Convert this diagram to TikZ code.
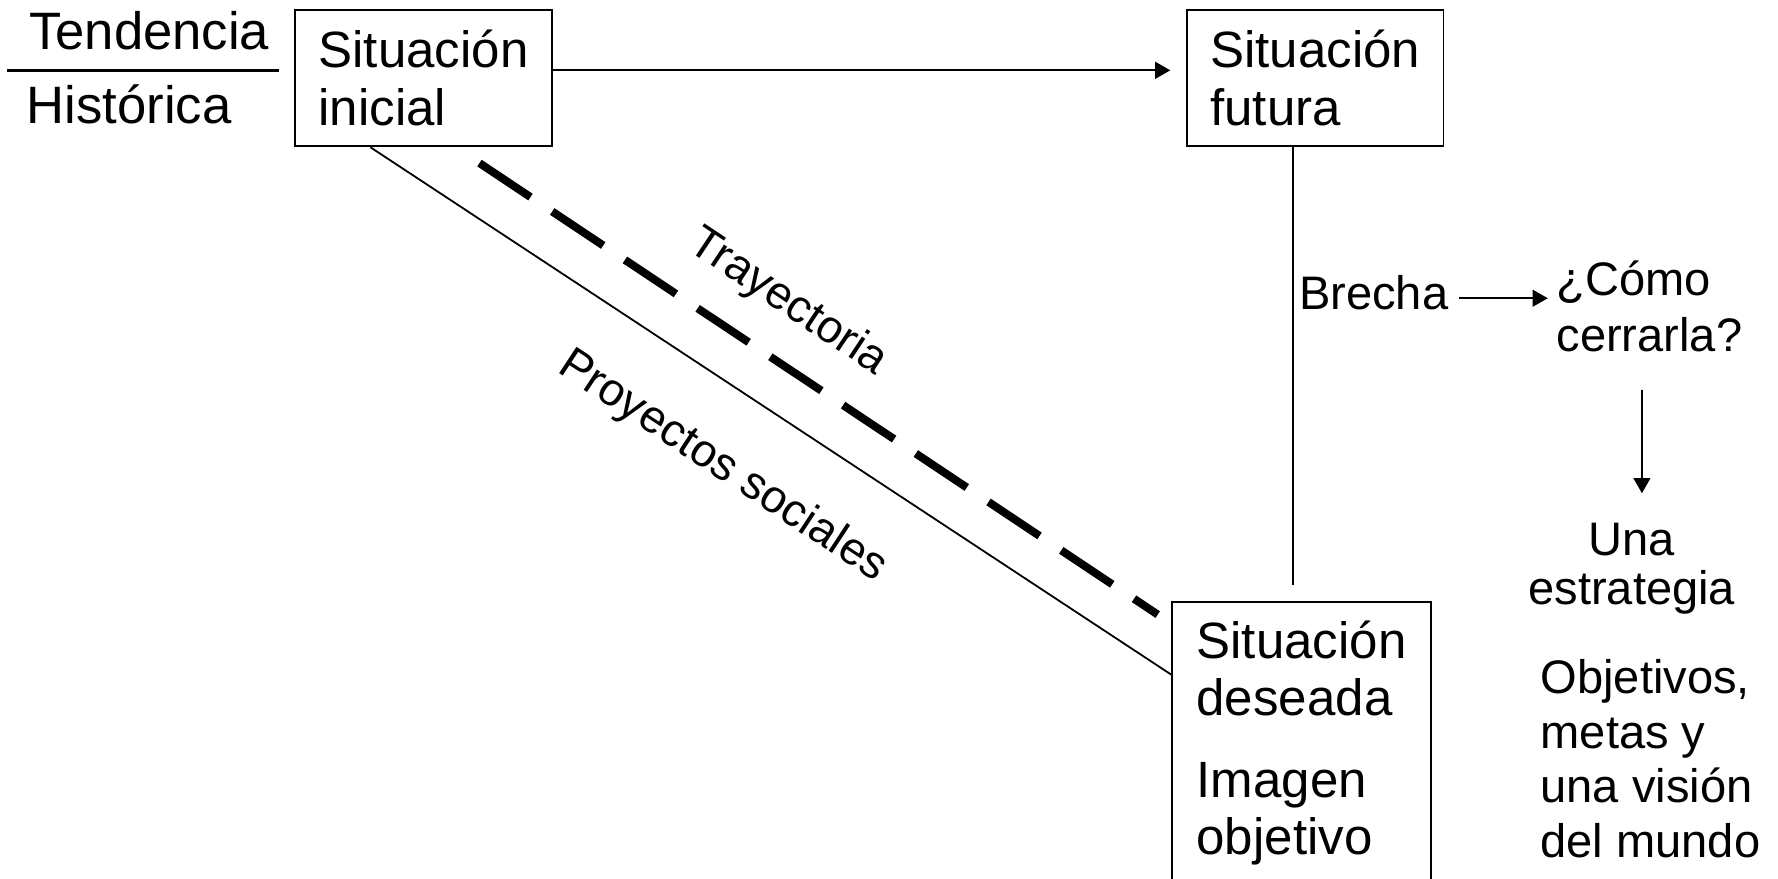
\documentclass[tikz,border=0pt]{standalone}
\usepackage{fontspec}
\setmainfont{Liberation Sans}
\usetikzlibrary{positioning,calc,arrows.meta}

\begin{document}
\begin{tikzpicture}[x=0.01cm,y=-0.01cm,>={Triangle[length=3.8pt,width=4.2pt]},
    thin line/.style={line width=0.45pt},
    box node/.style={rectangle,draw,line width=0.45pt,align=left,inner sep=0pt,font=\fontsize{12.8pt}{14.5pt}\selectfont},
    text node/.style={inner sep=0pt,font=\fontsize{11.8pt}{14.2pt}\selectfont},
    slope label/.style={sloped,inner sep=0pt,font=\fontsize{11.5pt}{13pt}\selectfont}]

\useasboundingbox (0,0) rectangle (1568,775);

\node[text node,anchor=base west,font=\fontsize{13.2pt}{14pt}\selectfont] (tend) at (25,44) {Tendencia};
\node[text node,anchor=base west,font=\fontsize{13.2pt}{14pt}\selectfont] (hist) at (23,109) {Histórica};
\coordinate (barL) at (6,62);
\coordinate (barR) at (246,62);

\node[box node,minimum width=2.27cm,minimum height=1.2cm] (inicial) at (373.5,69) {Situación\\inicial};
\node[box node,minimum width=2.26cm,minimum height=1.2cm] (futura)  at (1160,69)  {Situación\\futura};
\node[box node,minimum width=2.28cm,inner ysep=0.17cm,text depth=0.5cm,anchor=north west,
      font=\fontsize{12.8pt}{14.2pt}\selectfont] (deseada) at (1033,530) {Situación\\deseada\\[6.5pt]Imagen\\objetivo};

\node[text node,anchor=base west] (brecha) at (1145,273) {Brecha};
\node[text node,align=left,anchor=north west] (como) at (1372,229) {¿Cómo\\cerrarla?};
\node[text node,align=center,anchor=north,font=\fontsize{11.8pt}{12.2pt}\selectfont] (est) at (1439,461) {Una\\estrategia};
\node[text node,align=left,anchor=north west,font=\fontsize{11.8pt}{13.7pt}\selectfont] (obj) at (1358,581) {Objetivos,\\metas y\\una visión\\del mundo};

\coordinate (trayA) at ($(inicial.south east)+(-65,14)$);
\coordinate (trayB) at ($(deseada.north west)+(-12,12)$);

\draw[line width=0.6pt] (barL) -- (barR);
\draw[thin line,->,shorten >=0.14cm] ([yshift=0.07cm]inicial.east) -- ([yshift=0.07cm]futura.west);
\draw[line width=0.5pt,shorten >=0.14cm] ([xshift=-0.2cm]futura.south) -- ([xshift=-0.2cm]futura.south |- deseada.north);
\draw[thin line] ($(inicial.south west)!0.295!(inicial.south east)$) -- node[slope label,pos=0.49,below=0.45cm] {Proyectos sociales} ($(deseada.north west)+(0,65)$);
\draw[line width=2pt,dash pattern=on 0.54cm off 0.23cm] (trayA) -- node[slope label,pos=0.41,above=0.26cm] {Trayectoria} (trayB);
\draw[thin line,->,shorten <=0.09cm,shorten >=0.07cm] ([yshift=0.1cm]brecha.base east) -- ([yshift=0.1cm]brecha.base east -| como.west);
\draw[thin line,->,shorten <=0.33cm,shorten >=0.26cm] ([xshift=0.09cm]est.north |- como.south) -- ([xshift=0.09cm]est.north);
\end{tikzpicture}
\end{document}
